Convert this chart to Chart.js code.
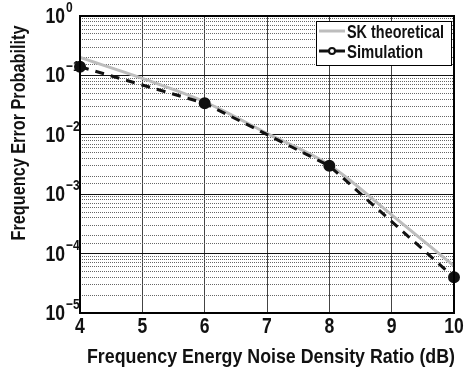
<!DOCTYPE html>
<html>
<head>
<meta charset="utf-8">
<script src="https://cdn.jsdelivr.net/npm/chart.js@4/dist/chart.umd.min.js"></script>
<style>
  body { margin: 0; background: #fff; }
  canvas { display: block; }
</style>
</head>
<body>
<canvas id="chart" width="466" height="375"></canvas>
<script>
// values
const xTicks = [4, 5, 6, 7, 8, 9, 10];
const yDecades = [0, -1, -2, -3, -4, -5];

const theoryX = [4, 5, 6, 7, 8, 9, 10];
const theoryY = [0.2, 0.089, 0.036, 0.0106, 0.0031, 0.00045, 0.000062];

const simX = [4, 6, 8, 10];
const simY = [0.14, 0.034, 0.003, 0.00004];

const FONT = '"Liberation Sans", Arial, sans-serif';
const NARROW = 0.8; // the figure uses a condensed bold face

const toPoints = (xs, ys) => xs.map((x, i) => ({ x: x, y: ys[i] }));

// condensed text: squeeze horizontally, optionally to a given width
function drawText(ctx, str, x, y, size, align, width) {
    ctx.save();
    ctx.font = 'bold ' + size + 'px ' + FONT;
    let sx = NARROW;
    if (width) sx = width / ctx.measureText(str).width;
    ctx.translate(x, y);
    ctx.scale(sx, 1);
    ctx.textAlign = align;
    ctx.fillText(str, 0, 0);
    ctx.restore();
}

// axis labels, titles, frame and legend drawn on top
const decorations = {
    id: 'decorations',
    afterDraw(chart) {
        const ctx = chart.ctx;
        const area = chart.chartArea;
        const xScale = chart.scales.x;
        const yScale = chart.scales.y;

        ctx.save();
        // frame
        ctx.strokeStyle = '#000';
        ctx.lineWidth = 2;
        ctx.strokeRect(area.left, area.top, area.right - area.left, area.bottom - area.top);

        ctx.fillStyle = '#111';
        ctx.textBaseline = 'alphabetic';

        // y tick labels 10^k
        yDecades.forEach(k => {
            const py = yScale.getPixelForValue(Math.pow(10, k));
            drawText(ctx, '10', 65, py + 7, 22, 'right');
            drawText(ctx, k === 0 ? '0' : '\u2212' + (-k), 66, py - 4, 15, 'left');
        });

        // x tick labels
        xTicks.forEach(v => {
            drawText(ctx, String(v), xScale.getPixelForValue(v), 333, 22, 'center');
        });

        // axis titles
        drawText(ctx, 'Frequency Energy Noise Density Ratio (dB)', 271, 363, 21, 'center', 368);

        ctx.save();
        ctx.translate(25, 133);
        ctx.rotate(-Math.PI / 2);
        drawText(ctx, 'Frequency Error Probability', 0, 0, 21, 'center', 215);
        ctx.restore();

        // legend box
        const lx = 316, ly = 21, lw = 135, lh = 44;
        ctx.fillStyle = '#fff';
        ctx.fillRect(lx, ly, lw, lh);
        ctx.strokeStyle = '#000';
        ctx.lineWidth = 1;
        ctx.strokeRect(lx + 0.5, ly + 0.5, lw, lh);

        const sets = chart.data.datasets;
        const rows = [31, 51];
        sets.forEach((ds, i) => {
            const ry = rows[i];
            ctx.strokeStyle = ds.borderColor;
            ctx.lineWidth = ds.borderWidth;
            ctx.setLineDash([]);
            ctx.beginPath();
            ctx.moveTo(319, ry);
            ctx.lineTo(345, ry);
            ctx.stroke();
            if (ds.pointRadius > 0) {
                ctx.fillStyle = '#fff';
                ctx.lineWidth = 2;
                ctx.beginPath();
                ctx.arc(332, ry, 3, 0, Math.PI * 2);
                ctx.fill();
                ctx.stroke();
            }
            ctx.fillStyle = '#111';
            drawText(ctx, ds.label, 347, ry + 7, 19, 'left', i === 0 ? 97 : 76);
        });
        ctx.restore();
    }
};

new Chart(document.getElementById('chart'), {
    type: 'line',
    data: {
        datasets: [
            {
                label: 'SK theoretical',
                data: toPoints(theoryX, theoryY),
                borderColor: '#bdbdbd',
                borderWidth: 3,
                pointRadius: 0,
                cubicInterpolationMode: 'monotone',
                order: 2
            },
            {
                label: 'Simulation',
                data: toPoints(simX, simY),
                borderColor: '#111',
                borderWidth: 3,
                borderDash: [9, 7],
                pointRadius: 4.5,
                pointBackgroundColor: '#111',
                pointBorderColor: '#111',
                clip: false,
                order: 1
            }
        ]
    },
    options: {
        responsive: false,
        devicePixelRatio: 1,
        animation: false,
        layout: { padding: { top: 16, right: 12, left: 0, bottom: 0 } },
        plugins: {
            legend: { display: false },
            tooltip: { enabled: false }
        },
        scales: {
            x: {
                type: 'linear',
                min: 4,
                max: 10,
                afterFit: s => { s.height = 62; },
                afterBuildTicks: s => { s.ticks = xTicks.map(v => ({ value: v })); },
                grid: { color: '#444', lineWidth: 1, drawTicks: false },
                border: { display: false },
                ticks: { display: false }
            },
            y: {
                type: 'logarithmic',
                min: 1e-5,
                max: 1,
                afterFit: s => { s.width = 80; },
                grid: {
                    drawTicks: false,
                    lineWidth: 1,
                    color: ctx => {
                        const v = ctx.tick && ctx.tick.value;
                        const m = v / Math.pow(10, Math.floor(Math.log10(v) + 1e-9));
                        return Math.abs(m - 1) < 1e-6 ? '#111' : '#666';
                    }
                },
                border: {
                    display: false,
                    dash: ctx => {
                        const v = ctx.tick && ctx.tick.value;
                        if (!v) return [];
                        const m = v / Math.pow(10, Math.floor(Math.log10(v) + 1e-9));
                        return Math.abs(m - 1) < 1e-6 ? [] : [1, 1];
                    }
                },
                ticks: { display: false, autoSkip: false }
            }
        }
    },
    plugins: [decorations]
});
</script>
</body>
</html>
